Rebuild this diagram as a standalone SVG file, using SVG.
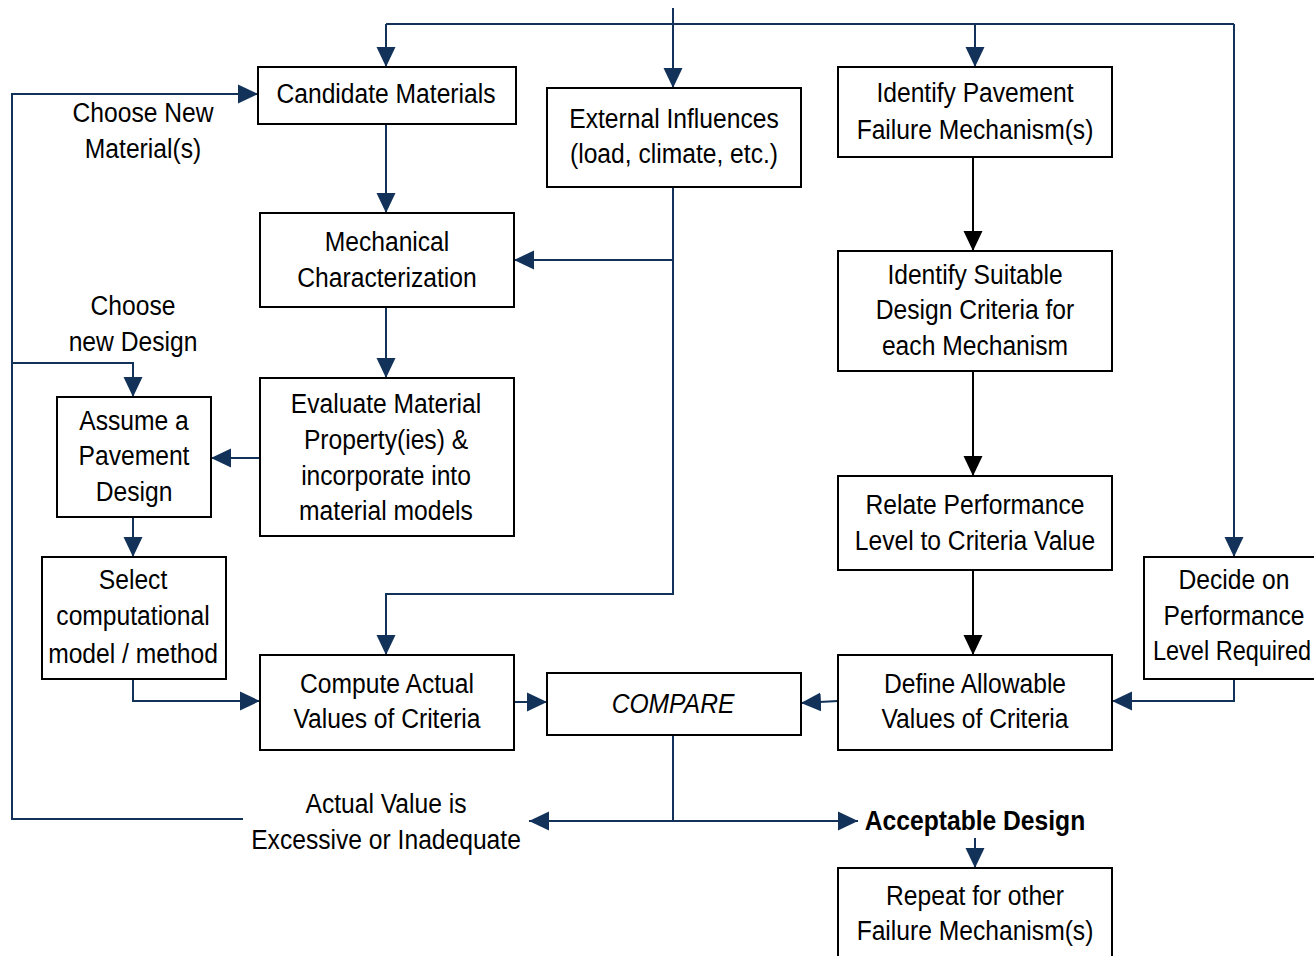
<svg xmlns="http://www.w3.org/2000/svg" width="1314" height="956" viewBox="0 0 1314 956">
<defs>
<style>
.box{fill:#fff;stroke:#000;stroke-width:2}
.c{fill:none;stroke:#12325a;stroke-width:2}
.k{fill:none;stroke:#000;stroke-width:2}
text{font-family:"Liberation Sans",Arial,sans-serif;font-size:28px;fill:#000;text-anchor:middle}
.b{font-weight:bold}
.i{font-style:italic}
</style>
<marker id="an" viewBox="0 0 20 20" refX="20" refY="10" markerWidth="20" markerHeight="20" markerUnits="userSpaceOnUse" orient="auto">
<path d="M0,0.5 L20,10 L0,19.5 Z" fill="#12325a"/>
</marker>
<marker id="ak" viewBox="0 0 20 20" refX="20" refY="10" markerWidth="20" markerHeight="20" markerUnits="userSpaceOnUse" orient="auto">
<path d="M0,0.5 L20,10 L0,19.5 Z" fill="#000"/>
</marker>
</defs>
<rect width="1314" height="956" fill="#fff"/>

<g id="connectors">
<path class="c" d="M673,8 V24"/>
<path class="c" d="M386,24 H1234"/>
<path class="c" d="M386,24 V67" marker-end="url(#an)"/>
<path class="c" d="M673,24 V88" marker-end="url(#an)"/>
<path class="c" d="M975,24 V67" marker-end="url(#an)"/>
<path class="c" d="M1234,24 V557" marker-end="url(#an)"/>
<path class="c" d="M386,124 V213" marker-end="url(#an)"/>
<path class="c" d="M673,187 V594 H386 V655" marker-end="url(#an)"/>
<path class="c" d="M673,260 H514" marker-end="url(#an)"/>
<path class="c" d="M386,307 V378" marker-end="url(#an)"/>
<path class="c" d="M260,458 H211" marker-end="url(#an)"/>
<path class="c" d="M133,517 V557" marker-end="url(#an)"/>
<path class="c" d="M133,679 V701 H260" marker-end="url(#an)"/>
<path class="c" d="M514,702 H547" marker-end="url(#an)"/>
<path class="c" d="M838,701 L801,703" marker-end="url(#an)"/>
<path class="c" d="M1234,679 V701 H1112" marker-end="url(#an)"/>
<path class="k" d="M973,157 V251" marker-end="url(#ak)"/>
<path class="k" d="M973,371 V476" marker-end="url(#ak)"/>
<path class="k" d="M973,570 V655" marker-end="url(#ak)"/>
<path class="c" d="M673,735 V821"/>
<path class="c" d="M673,821 H529" marker-end="url(#an)"/>
<path class="c" d="M673,821 H858" marker-end="url(#an)"/>
<path class="c" d="M975,838 V868" marker-end="url(#an)"/>
<path class="c" d="M243,819 H12 V94 H258" marker-end="url(#an)"/>
<path class="c" d="M12,363 H133 V397" marker-end="url(#an)"/>
</g>

<g id="candidate">
<rect class="box" x="258" y="67" width="258" height="57"/>
<g transform="translate(386,0) scale(0.88,1)"><text x="0" y="103">Candidate Materials</text></g>
</g>
<g id="external">
<rect class="box" x="547" y="88" width="254" height="99"/>
<g transform="translate(674,0) scale(0.88,1)"><text x="0" y="128">External Influences</text><text x="0" y="163">(load, climate, etc.)</text></g>
</g>
<g id="identify">
<rect class="box" x="838" y="67" width="274" height="90"/>
<g transform="translate(975,0) scale(0.88,1)"><text x="0" y="102">Identify Pavement</text><text x="0" y="139">Failure Mechanism(s)</text></g>
</g>
<g id="mech">
<rect class="box" x="260" y="213" width="254" height="94"/>
<g transform="translate(387,0) scale(0.88,1)"><text x="0" y="251">Mechanical</text><text x="0" y="287">Characterization</text></g>
</g>
<g id="suitable">
<rect class="box" x="838" y="251" width="274" height="120"/>
<g transform="translate(975,0) scale(0.88,1)"><text x="0" y="284">Identify Suitable</text><text x="0" y="319">Design Criteria for</text><text x="0" y="355">each Mechanism</text></g>
</g>
<g id="label-material">
<g transform="translate(143,0) scale(0.88,1)"><text x="0" y="122">Choose New</text><text x="0" y="158">Material(s)</text></g>
</g>
<g id="label-design">
<g transform="translate(133,0) scale(0.88,1)"><text x="0" y="315">Choose</text><text x="0" y="351">new Design</text></g>
</g>
<g id="assume">
<rect class="box" x="57" y="397" width="154" height="120"/>
<g transform="translate(134,0) scale(0.88,1)"><text x="0" y="430">Assume a</text><text x="0" y="465">Pavement</text><text x="0" y="501">Design</text></g>
</g>
<g id="evaluate">
<rect class="box" x="260" y="378" width="254" height="158"/>
<g transform="translate(386,0) scale(0.88,1)"><text x="0" y="413">Evaluate Material</text><text x="0" y="449">Property(ies) &amp;</text><text x="0" y="485">incorporate into</text><text x="0" y="520">material models</text></g>
</g>
<g id="relate">
<rect class="box" x="838" y="476" width="274" height="94"/>
<g transform="translate(975,0) scale(0.88,1)"><text x="0" y="514">Relate Performance</text><text x="0" y="550">Level to Criteria Value</text></g>
</g>
<g id="decide">
<rect class="box" x="1144" y="557" width="180" height="122"/>
<g transform="translate(1234,0) scale(0.88,1)"><text x="0" y="589">Decide on</text><text x="0" y="625">Performance</text></g>
<g transform="translate(1232,0) scale(0.84,1)"><text x="0" y="660">Level Required</text></g>
</g>
<g id="select">
<rect class="box" x="42" y="557" width="184" height="122"/>
<g transform="translate(133,0) scale(0.88,1)"><text x="0" y="589">Select</text><text x="0" y="625">computational</text><text x="0" y="663">model / method</text></g>
</g>
<g id="compute">
<rect class="box" x="260" y="655" width="254" height="95"/>
<g transform="translate(387,0) scale(0.88,1)"><text x="0" y="693">Compute Actual</text><text x="0" y="728">Values of Criteria</text></g>
</g>
<g id="compare">
<rect class="box" x="547" y="673" width="254" height="62"/>
<g transform="translate(673,0) scale(0.88,1)"><text class="i" x="0" y="713">COMPARE</text></g>
</g>
<g id="define">
<rect class="box" x="838" y="655" width="274" height="95"/>
<g transform="translate(975,0) scale(0.88,1)"><text x="0" y="693">Define Allowable</text><text x="0" y="728">Values of Criteria</text></g>
</g>
<g id="acceptable">
<g transform="translate(975,0) scale(0.88,1)"><text class="b" x="0" y="830">Acceptable Design</text></g>
</g>
<g id="actual">
<g transform="translate(386,0) scale(0.88,1)"><text x="0" y="813">Actual Value is</text><text x="0" y="849">Excessive or Inadequate</text></g>
</g>
<g id="repeat">
<rect class="box" x="838" y="868" width="274" height="100"/>
<g transform="translate(975,0) scale(0.88,1)"><text x="0" y="905">Repeat for other</text><text x="0" y="940">Failure Mechanism(s)</text></g>
</g>
</svg>
